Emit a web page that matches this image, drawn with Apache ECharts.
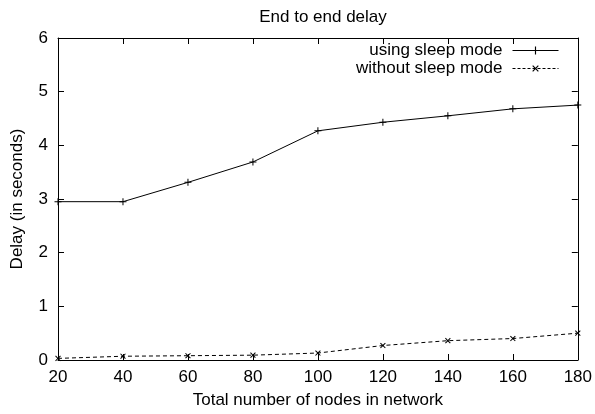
<!DOCTYPE html>
<html>
<head>
<meta charset="utf-8">
<script src="https://cdn.jsdelivr.net/npm/echarts@6/dist/echarts.min.js"></script>
<style>
  html, body { margin: 0; padding: 0; background: #fff; }
  #main { width: 595px; height: 414px; }
</style>
</head>
<body>
<div id="main"></div>
<script>
var xNodes = [20, 40, 60, 80, 100, 120, 140, 160, 180];
var ySleep = [2.95, 2.95, 3.31, 3.69, 4.27, 4.43, 4.55, 4.68, 4.75];
var yNoSleep = [0.03, 0.07, 0.08, 0.09, 0.13, 0.27, 0.36, 0.40, 0.50];

var myChart = echarts.init(document.getElementById('main'));
var fontName = 'Liberation Sans';
var plusPath = 'path://M3,0H4V3H7V4H4V7H3V4H0V3H3Z';

function pairs(xs, ys){
    var out = [];
    for (var i = 0; i < xs.length; i++) {
        out.push([xs[i], ys[i]]);
    }
    return out;
}

var tickStyle = { show: true, inside: true, length: 6, lineStyle: { color: '#000', width: 1 } };
var lineAxis = { show: true, onZero: false, lineStyle: { color: '#000', width: 1 } };

// legend rows, one legend each so the samples line up on the right
function legendRow(name, top, dash){
    return {
        data: [name],
        right: 36, top: top, padding: 0,
        align: 'right', itemWidth: 46, itemHeight: 10,
        lineStyle: { width: 1, type: dash },
        textStyle: { fontFamily: fontName, fontSize: 17, color: '#000', lineHeight: 17, padding: [0, 5, 0, 0] }
    };
}

var option = {
    animation: false,
    backgroundColor: '#fff',
    textStyle: { fontFamily: fontName, color: '#000' },
    title: {
        text: 'End to end delay',
        left: 318,
        textAlign: 'center',
        top: 4,
        textStyle: { fontFamily: fontName, fontSize: 17, fontWeight: 'normal', color: '#000' }
    },
    grid: { left: 58, right: 16, top: 38, bottom: 53 },
    legend: [
        legendRow('using sleep mode', 42, 'solid'),
        legendRow('without sleep mode', 60, [3, 2])
    ],
    xAxis: [
        {
            type: 'value', min: 20, max: 180, interval: 20,
            name: 'Total number of nodes in network',
            nameLocation: 'middle', nameGap: 32,
            nameTextStyle: { fontFamily: fontName, fontSize: 17, color: '#000' },
            axisLine: lineAxis, axisTick: tickStyle,
            axisLabel: { fontFamily: fontName, fontSize: 17, color: '#000', margin: 9 },
            splitLine: { show: false }
        },
        {
            type: 'value', min: 20, max: 180, interval: 20, position: 'top',
            axisLine: lineAxis, axisTick: tickStyle,
            axisLabel: { show: false }, splitLine: { show: false }
        }
    ],
    yAxis: [
        {
            type: 'value', min: 0, max: 6, interval: 1,
            name: 'Delay (in seconds)',
            nameLocation: 'middle', nameGap: 32,
            nameTextStyle: { fontFamily: fontName, fontSize: 17, color: '#000' },
            axisLine: lineAxis, axisTick: tickStyle,
            axisLabel: { fontFamily: fontName, fontSize: 17, color: '#000', margin: 10 },
            splitLine: { show: false }
        },
        {
            type: 'value', min: 0, max: 6, interval: 1, position: 'right',
            axisLine: lineAxis, axisTick: tickStyle,
            axisLabel: { show: false }, splitLine: { show: false }
        }
    ],
    series: [
        {
            name: 'using sleep mode',
            type: 'line',
            data: pairs(xNodes, ySleep),
            symbol: plusPath,
            symbolSize: 7,
            showAllSymbol: true,
            lineStyle: { color: '#000', width: 1 },
            itemStyle: { color: '#000' }
        },
        {
            name: 'without sleep mode',
            type: 'line',
            data: pairs(xNodes, yNoSleep),
            symbol: plusPath,
            symbolSize: 7,
            symbolRotate: 45,
            showAllSymbol: true,
            lineStyle: { color: '#000', width: 1, type: [4, 3] },
            itemStyle: { color: '#000' }
        }
    ]
};
myChart.setOption(option);
</script>
</body>
</html>
